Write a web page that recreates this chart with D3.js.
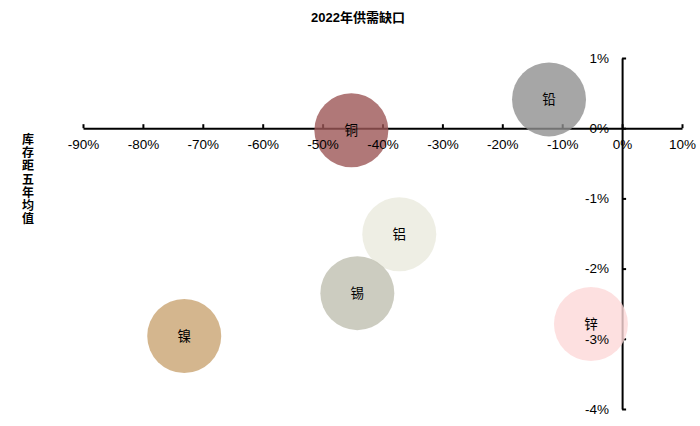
<!DOCTYPE html>
<html>
<head>
<meta charset="utf-8">
<script src="https://cdn.jsdelivr.net/npm/d3@7"></script>
<style>
  body { margin: 0; background: #fff; }
  svg text { font-family: "Liberation Sans", Arial, "Noto Sans CJK SC", sans-serif; fill: #000; }
</style>
</head>
<body>
<svg id="chart" width="700" height="426"></svg>
<script>
// metals, supply-demand gap (x, %) and inventory vs five-year average (y, %)
var metals = ['铜', '铅', '铝', '锡', '镍', '锌'];
var gapValues = [-45.2, -12.2, -37.2, -44.2, -73.1, -5.2];
var stockValues = [-0.03, 0.41, -1.51, -2.35, -2.96, -2.79];
var bubbleColors = ['#9c5656', '#909090', '#eaeadd', '#bfbfb0', '#c9a472', '#fdd8d8'];
var xTicks = [-90, -80, -70, -60, -50, -40, -30, -20, -10, 0, 10];
var yTicks = [1, 0, -1, -2, -3, -4];

var svg = d3.select('#chart');

var x = d3.scaleLinear().domain([-90, 10]).range([83, 682]);
var y = d3.scaleLinear().domain([-4, 1]).range([409, 58]);
var pct = function (d) { return d + '%'; };

// axis lines and ticks, under the bubbles
var xLine = svg.append('g')
	.attr('transform', 'translate(0,' + y(0) + ')')
	.call(d3.axisBottom(x).tickValues(xTicks).tickSize(-4).tickSizeOuter(0).tickFormat(''));
var yLine = svg.append('g')
	.attr('transform', 'translate(' + x(0) + ',0)')
	.call(d3.axisLeft(y).tickValues(yTicks).tickSize(-4).tickSizeOuter(0).tickFormat(''));

[xLine, yLine].forEach(function (g) {
	g.select('.domain').attr('stroke', '#000').attr('stroke-width', 2);
	g.selectAll('.tick line').attr('stroke', '#000').attr('stroke-width', 2);
});

// bubbles
var data = metals.map(function (m, i) {
	return { name: m, gap: gapValues[i], stock: stockValues[i], color: bubbleColors[i] };
});

svg.append('g').selectAll('circle')
	.data(data)
	.enter().append('circle')
	.attr('cx', function (d) { return x(d.gap); })
	.attr('cy', function (d) { return y(d.stock); })
	.attr('r', 37)
	.attr('fill', function (d) { return d.color; })
	.attr('fill-opacity', 0.8);

// tick labels on top
var xLab = svg.append('g')
	.attr('transform', 'translate(0,' + y(0) + ')')
	.call(d3.axisBottom(x).tickValues(xTicks).tickSize(0).tickPadding(11).tickFormat(pct));
var yLab = svg.append('g')
	.attr('transform', 'translate(' + x(0) + ',0)')
	.call(d3.axisLeft(y).tickValues(yTicks).tickSize(0).tickPadding(13).tickFormat(pct));

[xLab, yLab].forEach(function (g) {
	g.select('.domain').remove();
	g.selectAll('text').attr('font-size', 13.5).attr('fill', '#000')
		.attr('font-family', '"Liberation Sans", Arial, sans-serif');
});

// bubble labels
svg.append('g').selectAll('text')
	.data(data)
	.enter().append('text')
	.attr('x', function (d) { return x(d.gap); })
	.attr('y', function (d) { return y(d.stock); })
	.attr('dy', '0.35em')
	.attr('text-anchor', 'middle')
	.attr('font-size', 13.5)
	.text(function (d) { return d.name; });

// title
svg.append('text')
	.attr('x', 358)
	.attr('y', 22)
	.attr('text-anchor', 'middle')
	.attr('font-size', 13)
	.attr('font-weight', 'bold')
	.text('2022年供需缺口');

// vertical y title, one character per line
var yTitle = '库存距五年均值'.split('');
svg.append('g').selectAll('text')
	.data(yTitle)
	.enter().append('text')
	.attr('x', 28)
	.attr('y', function (d, i) { return 144 + i * 13.2; })
	.attr('text-anchor', 'middle')
	.attr('font-size', 12)
	.attr('font-weight', 'bold')
	.text(function (d) { return d; });
</script>
</body>
</html>
